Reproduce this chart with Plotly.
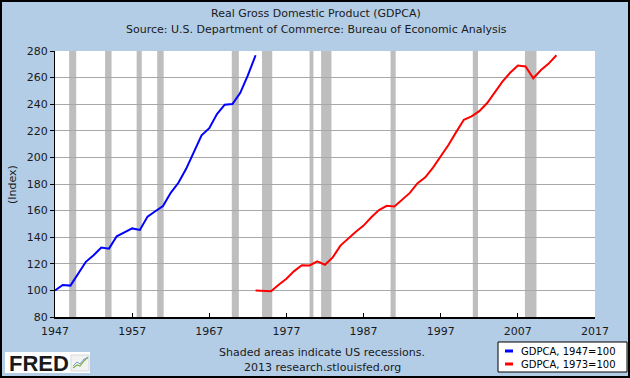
import plotly.graph_objects as go

# ---------------- data ----------------
years_1947 = list(range(1947, 1974))
gdpca_1947 = [100.0, 104.1, 103.6, 112.7, 121.5, 126.4, 132.2, 131.4, 140.7, 143.7,
              146.6, 145.5, 155.5, 159.5, 163.5, 173.4, 180.9, 191.4, 203.6, 216.6,
              222.0, 232.6, 239.6, 240.1, 248.4, 261.6, 276.8]

years_1973 = list(range(1973, 2013))
gdpca_1973 = [100.0, 99.5, 99.3, 104.2, 108.8, 114.5, 118.9, 118.8, 121.8, 119.3,
              124.8, 133.7, 139.2, 144.1, 148.7, 155.0, 160.4, 163.6, 163.1, 168.3,
              173.3, 180.6, 185.0, 192.3, 200.6, 209.3, 219.0, 228.3, 230.8, 234.8,
              240.7, 249.2, 257.0, 263.6, 269.0, 268.3, 259.5, 265.7, 270.5, 276.8]

recession_start = ["1948-11-01", "1953-07-01", "1957-08-01", "1960-04-01", "1969-12-01",
                   "1973-11-01", "1980-01-01", "1981-07-01", "1990-07-01", "2001-03-01",
                   "2007-12-01"]
recession_end = ["1949-10-01", "1954-05-01", "1958-04-01", "1961-02-01", "1970-11-01",
                 "1975-03-01", "1980-07-01", "1982-11-01", "1991-03-01", "2001-11-01",
                 "2009-06-01"]

x_tick_years = [1947, 1957, 1967, 1977, 1987, 1997, 2007, 2017]
x_tick_labels = [str(y) for y in x_tick_years]
y_ticks = [80, 100, 120, 140, 160, 180, 200, 220, 240, 260, 280]

series_names = ["GDPCA, 1947=100", "GDPCA, 1973=100"]
series_colors = ["#0000FF", "#FF0000"]

title_line1 = "Real Gross Domestic Product (GDPCA)"
title_line2 = "Source: U.S. Department of Commerce: Bureau of Economic Analysis"
footer_line1 = "Shaded areas indicate US recessions."
footer_line2 = "2013 research.stlouisfed.org"

# ---------------- layout geometry ----------------
W, H = 630, 378
ML, MR, MT, MB = 55, 35, 51, 61
PW, PH = W - ML - MR, H - MT - MB


def px_x(px):
    return (px - ML) / PW


def px_y(py):
    return (H - MB - py) / PH


FONT = "DejaVu Sans"

fig = go.Figure()

fig.add_trace(go.Scatter(
    x=[f"{y}-01-01" for y in years_1947], y=gdpca_1947, mode="lines",
    line=dict(color=series_colors[0], width=2), name=series_names[0], showlegend=False))
fig.add_trace(go.Scatter(
    x=[f"{y}-01-01" for y in years_1973], y=gdpca_1973, mode="lines",
    line=dict(color=series_colors[1], width=2), name=series_names[1], showlegend=False))

shapes = []
for s, e in zip(recession_start, recession_end):
    shapes.append(dict(type="rect", xref="x", yref="paper", x0=s, x1=e, y0=0, y1=1,
                       fillcolor="#BEBEBE", line=dict(width=0), layer="between"))

# outer black frame
shapes.append(dict(type="rect", xref="paper", yref="paper",
                   x0=px_x(1), x1=px_x(W - 1), y0=px_y(H - 1), y1=px_y(1),
                   line=dict(color="black", width=2), fillcolor="rgba(0,0,0,0)", layer="above"))

# legend box
lx0, lx1, ly0, ly1 = 498, 627, 342, 372
shapes.append(dict(type="rect", xref="paper", yref="paper",
                   x0=px_x(lx0), x1=px_x(lx1), y0=px_y(ly1), y1=px_y(ly0),
                   line=dict(color="black", width=1), fillcolor="white", layer="above"))
legend_rows = [351, 364]
annotations = []
for name, col, ry in zip(series_names, series_colors, legend_rows):
    shapes.append(dict(type="line", xref="paper", yref="paper",
                       x0=px_x(505), x1=px_x(513), y0=px_y(ry), y1=px_y(ry),
                       line=dict(color=col, width=3), layer="above"))
    annotations.append(dict(xref="paper", yref="paper", x=px_x(519), y=px_y(ry),
                            xanchor="left", yanchor="middle", showarrow=False, text=name,
                            font=dict(family=FONT, size=10, color="black")))

# FRED logo
shapes.append(dict(type="rect", xref="paper", yref="paper",
                   x0=px_x(5), x1=px_x(90), y0=px_y(373), y1=px_y(352),
                   line=dict(width=0), fillcolor="white", layer="above"))
shapes.append(dict(type="rect", xref="paper", yref="paper",
                   x0=px_x(71), x1=px_x(89), y0=px_y(371), y1=px_y(355),
                   line=dict(color="#D8D8D8", width=1), fillcolor="#F2F2F2", layer="above"))
shapes.append(dict(type="path", xref="paper", yref="paper",
                   path=f"M {px_x(73)},{px_y(368)} L {px_x(77)},{px_y(365)} L {px_x(80)},{px_y(366)} L {px_x(84)},{px_y(361)} L {px_x(88)},{px_y(357)}",
                   line=dict(color="#7FB24A", width=1.2), layer="above"))
shapes.append(dict(type="path", xref="paper", yref="paper",
                   path=f"M {px_x(73)},{px_y(366)} L {px_x(77)},{px_y(362)} L {px_x(80)},{px_y(364)} L {px_x(84)},{px_y(359)} L {px_x(88)},{px_y(358)}",
                   line=dict(color="#7A9CC8", width=1), layer="above"))
annotations.append(dict(xref="paper", yref="paper", x=px_x(7), y=px_y(363),
                        xanchor="left", yanchor="middle", showarrow=False,
                        text="<b>FRED</b>",
                        font=dict(family="Liberation Sans", size=22, color="#1A1A1A")))

# titles
annotations.append(dict(xref="paper", yref="paper", x=px_x(316), y=px_y(14),
                        xanchor="center", yanchor="middle", showarrow=False, text=title_line1,
                        font=dict(family=FONT, size=11, color="#1A1A1A")))
annotations.append(dict(xref="paper", yref="paper", x=px_x(316), y=px_y(30),
                        xanchor="center", yanchor="middle", showarrow=False, text=title_line2,
                        font=dict(family=FONT, size=11, color="#1A1A1A")))
# footer
annotations.append(dict(xref="paper", yref="paper", x=px_x(322), y=px_y(352),
                        xanchor="center", yanchor="middle", showarrow=False, text=footer_line1,
                        font=dict(family=FONT, size=11, color="#1A1A1A")))
annotations.append(dict(xref="paper", yref="paper", x=px_x(322), y=px_y(367),
                        xanchor="center", yanchor="middle", showarrow=False, text=footer_line2,
                        font=dict(family=FONT, size=11, color="#1A1A1A")))
# y-axis title
annotations.append(dict(xref="paper", yref="paper", x=px_x(12), y=px_y(185),
                        xanchor="center", yanchor="middle", showarrow=False, text="(Index)",
                        textangle=-90, font=dict(family=FONT, size=11, color="#1A1A1A")))

fig.update_layout(
    width=W, height=H, autosize=False,
    margin=dict(l=ML, r=MR, t=MT, b=MB, pad=0),
    paper_bgcolor="#B4CDE6", plot_bgcolor="white",
    font=dict(family=FONT, size=11, color="#1A1A1A"),
    shapes=shapes, annotations=annotations, showlegend=False,
    xaxis=dict(type="date", range=["1947-01-01", "2017-01-01"],
               tickvals=[f"{y}-01-01" for y in x_tick_years], ticktext=x_tick_labels,
               ticks="inside", ticklen=4, tickcolor="black", tickwidth=1,
               ticklabelstandoff=3,
               showgrid=False, zeroline=False, showline=True, linecolor="black", linewidth=2,
               tickfont=dict(family=FONT, size=11, color="#1A1A1A")),
    yaxis=dict(range=[80, 280], tickvals=y_ticks, ticks="outside", ticklen=4,
               tickcolor="black", tickwidth=1, showgrid=True, gridcolor="#A8A8A8", gridwidth=1,
               zeroline=False, showline=True, linecolor="black", linewidth=1,
               tickfont=dict(family=FONT, size=11, color="#1A1A1A")),
)

fig.write_html("out.html", config={"displayModeBar": False},
               post_script="document.body.style.margin='0px';document.body.style.overflow='hidden';")
